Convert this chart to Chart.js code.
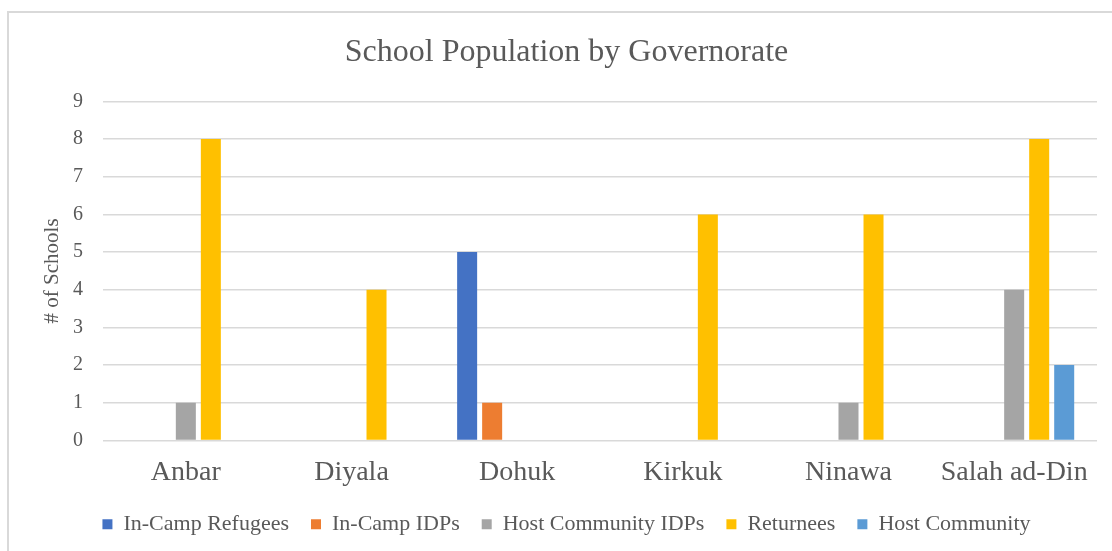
<!DOCTYPE html>
<html>
<head>
<meta charset="utf-8">
<script src="https://cdn.jsdelivr.net/npm/chart.js@4/dist/chart.umd.min.js"></script>
<style>
  html, body { margin: 0; padding: 0; background: #fff; overflow: hidden; }
  #frame {
    position: absolute; left: 7px; top: 11px; width: 1300px; height: 700px;
    border-left: 2px solid #d9d9d9; border-top: 2px solid #d9d9d9;
  }
  #wrap { position: absolute; left: 0; top: 0; width: 1112px; height: 551px; }
</style>
</head>
<body>
<div id="frame"></div>
<div id="wrap"><canvas id="chart" width="1112" height="551"></canvas></div>
<script>
const governorates = ['Anbar', 'Diyala', 'Dohuk', 'Kirkuk', 'Ninawa', 'Salah ad-Din']

const inCampRefugees = [0, 0, 5, 0, 0, 0]
const inCampIDPs = [0, 0, 1, 0, 0, 0]
const hostCommunityIDPs = [1, 0, 0, 0, 1, 4]
const returnees = [8, 4, 0, 6, 6, 8]
const hostCommunity = [0, 0, 0, 0, 0, 2]

const textColor = '#595959'
const serif = "'Liberation Serif', 'Times New Roman', serif"

function series (label, data, color) {
  return {
    label,
    data,
    backgroundColor: color,
    categoryPercentage: 0.755,
    barPercentage: 0.8
  }
}

const ctx = document.getElementById('chart')
new Chart(ctx, {
  type: 'bar',
  data: {
    labels: governorates,
    datasets: [
      series('In-Camp Refugees', inCampRefugees, '#4472C4'),
      series('In-Camp IDPs', inCampIDPs, '#ED7D31'),
      series('Host Community IDPs', hostCommunityIDPs, '#A5A5A5'),
      series('Returnees', returnees, '#FFC000'),
      series('Host Community', hostCommunity, '#5B9BD5')
    ]
  },
  options: {
    responsive: false,
    animation: false,
    layout: { padding: { top: 16, left: 36, right: 15, bottom: 5.8 } },
    plugins: {
      title: {
        display: true,
        text: 'School Population by Governorate',
        color: textColor,
        font: { family: serif, size: 32, weight: 'normal' },
        padding: { top: 17, bottom: 30 }
      },
      legend: {
        position: 'bottom',
        labels: {
          color: textColor,
          font: { family: serif, size: 22 },
          boxWidth: 10,
          boxHeight: 10,
          padding: 22
        }
      },
      tooltip: { enabled: false }
    },
    scales: {
      x: {
        afterFit: axis => { axis.height = 50.8 },
        grid: { display: false, drawTicks: false },
        border: { display: false },
        ticks: {
          color: textColor,
          font: { family: serif, size: 28 },
          padding: 15.2
        }
      },
      y: {
        min: 0,
        max: 9,
        afterFit: axis => { axis.width = 67 },
        grid: { color: '#d9d9d9', lineWidth: 1.5, drawTicks: false },
        border: { display: false },
        ticks: {
          stepSize: 1,
          color: textColor,
          font: { family: serif, size: 20 },
          padding: 20
        },
        title: {
          display: true,
          text: '# of Schools',
          color: textColor,
          font: { family: serif, size: 21 },
          padding: { top: 4, bottom: 0 }
        }
      }
    }
  }
})
</script>
</body>
</html>
